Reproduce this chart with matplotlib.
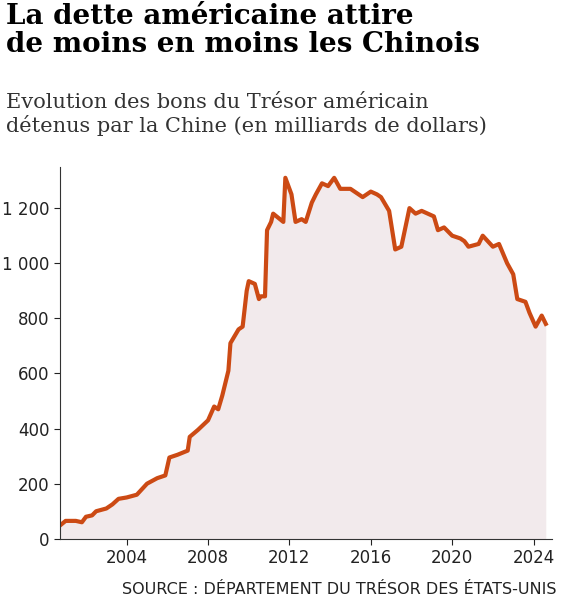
import matplotlib.pyplot as plt
import numpy as np

years = [2000.75, 2001.0, 2001.5, 2001.8, 2002.0, 2002.3, 2002.5, 2003.0, 2003.3, 2003.6,
         2004.0, 2004.5, 2005.0, 2005.5, 2005.9, 2006.1, 2006.5, 2007.0, 2007.1, 2007.5,
         2008.0, 2008.3, 2008.5, 2008.7, 2009.0, 2009.1, 2009.5, 2009.7, 2009.9, 2010.0,
         2010.3, 2010.5, 2010.6, 2010.8, 2010.9, 2011.1, 2011.2, 2011.7, 2011.8, 2012.1,
         2012.3, 2012.6, 2012.8, 2013.1, 2013.3, 2013.6, 2013.9, 2014.2, 2014.5, 2015.0,
         2015.6, 2016.0, 2016.3, 2016.5, 2016.9, 2017.2, 2017.5, 2017.9, 2018.2, 2018.5,
         2018.8, 2019.1, 2019.3, 2019.6, 2020.0, 2020.4, 2020.6, 2020.8, 2021.3, 2021.5,
         2022.0, 2022.3, 2022.7, 2023.0, 2023.2, 2023.6, 2023.8, 2024.1, 2024.4, 2024.6]
values = [50, 65, 65, 60, 80, 85, 100, 110, 125, 145,
          150, 160, 200, 220, 230, 295, 305, 320, 370, 395,
          430, 480, 470, 520, 610, 710, 760, 770, 900, 935,
          925, 870, 880, 880, 1120, 1150, 1180, 1150, 1310, 1250,
          1150, 1160, 1150, 1220, 1250, 1290, 1280, 1310, 1270, 1270,
          1240, 1260, 1250, 1240, 1190, 1050, 1060, 1200, 1180, 1190,
          1180, 1170, 1120, 1130, 1100, 1090, 1080, 1060, 1070, 1100,
          1060, 1070, 1000, 960, 870, 860, 820, 770, 810, 780]
yticks = [0, 200, 400, 600, 800, 1000, 1200]
xticks = [2004, 2008, 2012, 2016, 2020, 2024]

fig = plt.figure(figsize=(5.62, 6.0), dpi=100)
ax = fig.add_axes([0.107, 0.102, 0.875, 0.62])
ax.fill_between(years, values, color="#f2eaec", lw=0)
ax.plot(years, values, color="#cc4a14", lw=3, solid_joinstyle="round")
ax.set_xlim(2000.73, 2024.9)
ax.set_ylim(0, 1350)
ax.set_yticks(yticks)
ax.set_yticklabels([f"{v:,}".replace(",", " ") for v in yticks])
ax.set_xticks(xticks)
for s in ["top", "right"]:
    ax.spines[s].set_visible(False)
ax.spines["left"].set_color("#333333")
ax.spines["bottom"].set_color("#333333")
ax.tick_params(labelsize=12, colors="#222222", length=4)

fig.text(0.01, 0.995, "La dette américaine attire\nde moins en moins les Chinois",
         va="top", ha="left", fontsize=20, fontweight="bold", family="DejaVu Serif",
         linespacing=1.05)
fig.text(0.01, 0.845, "Evolution des bons du Trésor américain\ndétenus par la Chine (en milliards de dollars)",
         va="top", ha="left", fontsize=15, family="DejaVu Serif", color="#333333",
         linespacing=1.2)
fig.text(0.99, 0.005, "SOURCE : DÉPARTEMENT DU TRÉSOR DES ÉTATS-UNIS",
         va="bottom", ha="right", fontsize=11.5, color="#222222")
fig.savefig("out.png", dpi=100)
